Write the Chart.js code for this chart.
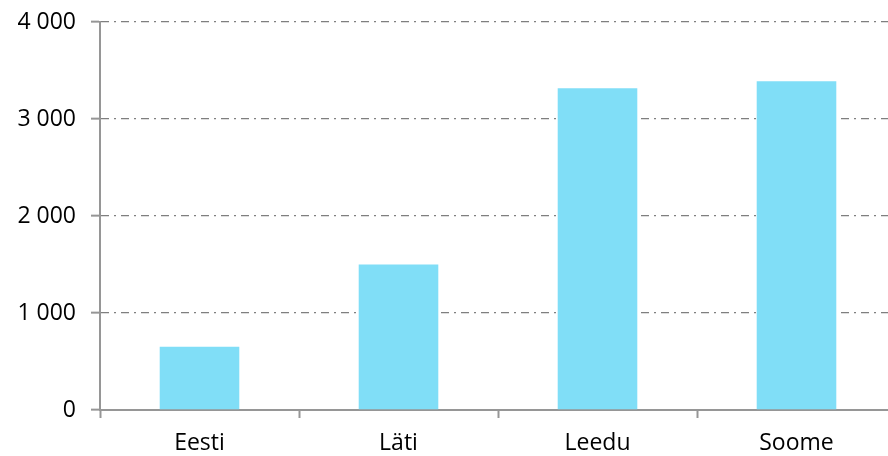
<!DOCTYPE html>
<html>
<head>
<meta charset="utf-8">
<script src="https://cdn.jsdelivr.net/npm/chart.js@4/dist/chart.umd.min.js"></script>
<style>
  html, body { margin: 0; padding: 0; background: #fff; overflow: hidden; }
  #wrap { width: 888px; height: 456px; overflow: hidden; }
</style>
</head>
<body>
<div id="wrap"><canvas id="chart1" width="900" height="456"></canvas></div>
<script>
// Andmed
const Categories = ['Eesti', 'Läti', 'Leedu', 'Soome'];
const Values = [651, 1499, 3318, 3390];
const YTicks = [0, 1000, 2000, 3000, 4000];

const BarColor = 'rgb(128, 222, 247)';
const AxisColor = 'rgb(150, 150, 150)';
const GridColor = 'rgba(105, 105, 105, 0.85)';
const FontFamily = '"Open Sans", sans-serif';

function fmt(v) {
  return String(v).replace(/\B(?=(\d{3})+(?!\d))/g, ' ');
}

new Chart('chart1', {
  type: 'bar',
  data: {
    labels: Categories,
    datasets: [{
      data: Values,
      backgroundColor: BarColor,
      borderWidth: 0,
      categoryPercentage: 1,
      barPercentage: 0.4
    }]
  },
  options: {
    responsive: false,
    animation: false,
    layout: { padding: { top: 22, right: 4, left: 0, bottom: 0 } },
    plugins: {
      legend: { display: false },
      tooltip: { enabled: false }
    },
    scales: {
      x: {
        grid: {
          offset: true,
          drawOnChartArea: false,
          drawTicks: true,
          tickLength: 8,
          tickColor: AxisColor,
          tickWidth: 2
        },
        border: { color: AxisColor, width: 2 },
        ticks: {
          color: '#000',
          padding: 12,
          font: { family: FontFamily, size: 23 }
        },
        afterFit: s => { s.height = 46; s.paddingLeft = 0; s.paddingRight = 0; }
      },
      y: {
        min: 0,
        max: 4000,
        z: 1,
        afterBuildTicks: s => { s.ticks = YTicks.map(v => ({ value: v })); },
        grid: {
          color: c => (c.tick && c.tick.value === 0) ? 'rgba(0,0,0,0)' : GridColor,
          lineWidth: 1.3,
          drawTicks: true,
          tickLength: 9,
          tickColor: AxisColor,
          tickWidth: 2,
          tickBorderDash: []
        },
        border: { color: AxisColor, width: 2, dash: [8, 5, 2, 5] },
        ticks: {
          color: '#000',
          padding: 15,
          font: { family: FontFamily, size: 23 },
          callback: v => fmt(v)
        },
        afterFit: s => { s.width = 100; s.paddingTop = 0; s.paddingBottom = 0; }
      }
    }
  }
});
</script>
</body>
</html>
